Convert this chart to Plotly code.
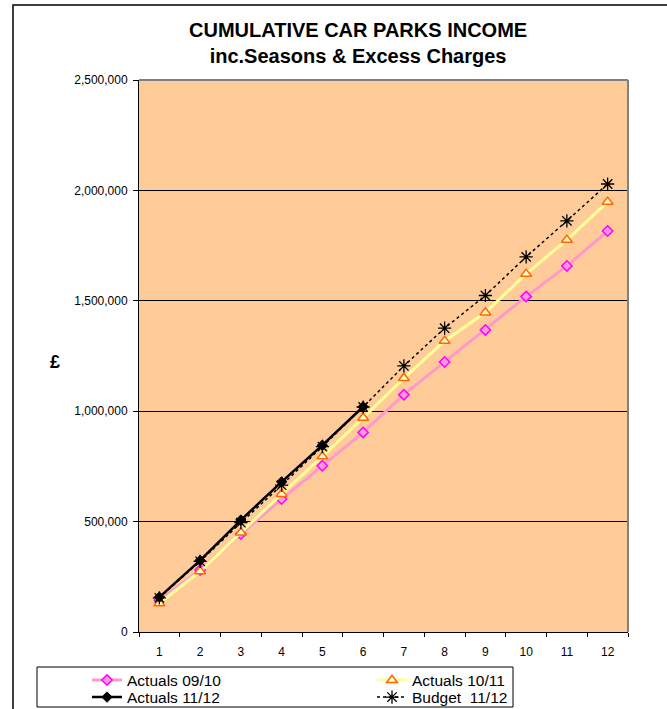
import plotly.graph_objects as go

# Month numbers along the x axis
months = ["1", "2", "3", "4", "5", "6", "7", "8", "9", "10", "11", "12"]

# Cumulative car parks income (GBP)
actuals_0910 = [145000, 281000, 444000, 602000, 753000, 904000,
                1075000, 1223000, 1368000, 1519000, 1658000, 1816000]
actuals_1011 = [130000, 275000, 450000, 625000, 795000, 970000,
                1150000, 1318000, 1447000, 1622000, 1776000, 1948000]
actuals_1112 = [158000, 324000, 507000, 680000, 846000, 1020000,
                None, None, None, None, None, None]
budget_1112 = [155000, 320000, 495000, 665000, 840000, 1019000,
               1205000, 1376000, 1524000, 1699000, 1862000, 2029000]

y_ticks = [0, 500000, 1000000, 1500000, 2000000, 2500000]

FONT = "Liberation Sans, Arial, sans-serif"

# Pixel geometry of the page, used to express decorations in paper units
W, H = 667, 709
PL, PR, PT, PB = 139, 628, 80, 632


def px_x(v):
    return (v - PL) / (PR - PL)


def px_y(v):
    return (PB - v) / (PB - PT)


fig = go.Figure()

fig.add_trace(go.Scatter(
    x=months, y=actuals_0910, name="Actuals 09/10", mode="lines+markers",
    line=dict(color="#FF99CC", width=3),
    marker=dict(symbol="diamond", size=8, color="#FF99DD",
                line=dict(color="#FF00FF", width=1.5)),
    legend="legend", legendrank=1,
))
fig.add_trace(go.Scatter(
    x=months, y=actuals_1011, name="Actuals 10/11", mode="lines+markers",
    line=dict(color="#FFFF99", width=3),
    marker=dict(symbol="triangle-up", size=9.5, color="#FFFFCC",
                line=dict(color="#FF6600", width=1.5)),
    legend="legend", legendrank=2,
))
fig.add_trace(go.Scatter(
    x=months, y=budget_1112, name="Budget \u00a011/12", mode="lines+markers",
    line=dict(color="black", width=1.5, dash="dot"),
    marker=dict(symbol="asterisk-open", size=11,
                line=dict(color="black", width=1.3)),
    legend="legend2", legendrank=4,
))
fig.add_trace(go.Scatter(
    x=months, y=actuals_1112, name="Actuals 11/12", mode="lines+markers",
    line=dict(color="black", width=2.5),
    marker=dict(symbol="diamond", size=8, color="black",
                line=dict(color="black", width=1)),
    connectgaps=False,
    legend="legend2", legendrank=3,
))

legend_common = dict(
    orientation="h", xanchor="left", yanchor="top",
    bgcolor="rgba(0,0,0,0)", borderwidth=0,
    font=dict(family=FONT, size=15.5, color="black"),
    entrywidth=240, entrywidthmode="pixels",
    itemsizing="trace", traceorder="normal",
)

fig.update_layout(
    width=W, height=H,
    margin=dict(l=PL, r=W - PR, t=PT, b=H - PB, pad=0, autoexpand=False),
    paper_bgcolor="white",
    plot_bgcolor="#FFCC99",
    font=dict(family=FONT, size=12, color="black"),
    showlegend=True,
    legend=dict(x=px_x(87), y=px_y(663.5), **legend_common),
    legend2=dict(x=px_x(87), y=px_y(680.5), **legend_common),
    xaxis=dict(
        type="category", categoryorder="array", categoryarray=months,
        range=[-0.5, 11.5], autorange=False,
        showgrid=False, showline=True, linecolor="black", linewidth=1,
        ticks="outside", tickson="boundaries", ticklen=4, tickcolor="black",
        tickfont=dict(family=FONT, size=12, color="black"),
        ticklabelstandoff=9, zeroline=False, fixedrange=True,
    ),
    yaxis=dict(
        range=[0, 2500000], autorange=False, tickvals=y_ticks, tickformat=",d",
        showgrid=True, gridcolor="black", gridwidth=1,
        showline=True, linecolor="black", linewidth=1,
        ticks="outside", ticklen=5, tickcolor="black",
        tickfont=dict(family=FONT, size=12, color="black"),
        ticklabelstandoff=3, zeroline=False, fixedrange=True,
    ),
    shapes=[
        # outer chart frame
        dict(type="rect", xref="paper", yref="paper",
             x0=px_x(13), x1=px_x(675), y0=px_y(715), y1=px_y(5),
             line=dict(color="black", width=1.5), layer="below"),
        # plot area border (top and right edges)
        dict(type="line", xref="paper", yref="paper",
             x0=0, x1=1, y0=1, y1=1,
             line=dict(color="#808080", width=2), layer="above"),
        dict(type="line", xref="paper", yref="paper",
             x0=1, x1=1, y0=0, y1=1,
             line=dict(color="#808080", width=2), layer="above"),
        # legend box
        dict(type="rect", xref="paper", yref="paper",
             x0=px_x(37), x1=px_x(513), y0=px_y(707), y1=px_y(667),
             line=dict(color="black", width=1), layer="above"),
    ],
    annotations=[
        dict(text="<b>CUMULATIVE CAR PARKS INCOME<br>inc.Seasons &amp; Excess Charges</b>",
             xref="paper", yref="paper", x=px_x(358), y=px_y(42.5),
             xanchor="center", yanchor="middle", showarrow=False,
             font=dict(family=FONT, size=20, color="black")),
        dict(text="<b>£</b>", xref="paper", yref="paper",
             x=px_x(55), y=px_y(362), xanchor="center", yanchor="middle",
             showarrow=False, font=dict(family=FONT, size=18, color="black")),
    ],
)

fig.write_html("out.html")
